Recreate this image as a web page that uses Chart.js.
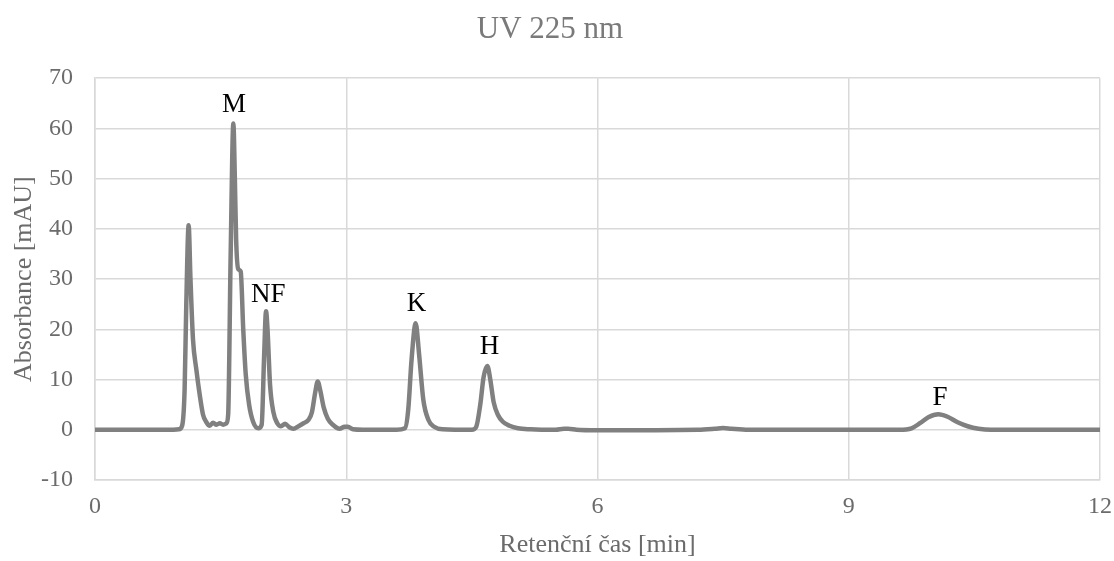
<!DOCTYPE html>
<html lang="cs">
<head>
    <meta charset="UTF-8">
    <title>UV 225 nm</title>
    <script src="https://cdn.jsdelivr.net/npm/chart.js"></script>
    <style>
        body { margin: 0; background: #fff; }
        #wrap { width: 1114px; height: 561px; }
    </style>
</head>
<body>
<div id="wrap"><canvas id="uvChart" width="1114" height="561"></canvas></div>
<script>
  // chromatogram: retention time [min] and absorbance [mAU]
  const retTime = [
    0, 0.5, 0.9, 1.00, 1.04, 1.07, 1.09, 1.118, 1.14, 1.17, 1.21, 1.25, 1.29, 1.33, 1.37,
    1.41, 1.45, 1.49, 1.53, 1.57, 1.59, 1.62, 1.652, 1.67, 1.685, 1.71, 1.74, 1.77, 1.80,
    1.84, 1.89, 1.95, 1.99, 2.02, 2.042, 2.06, 2.09, 2.13, 2.18, 2.22, 2.27, 2.32, 2.37,
    2.43, 2.49, 2.55, 2.59, 2.63, 2.659, 2.69, 2.73, 2.78, 2.84, 2.92, 2.98, 3.02, 3.08,
    3.2, 3.6, 3.70, 3.74, 3.78, 3.829, 3.87, 3.92, 3.98, 4.05, 4.15, 4.5, 4.55, 4.60, 4.64,
    4.685, 4.72, 4.76, 4.81, 4.87, 4.95, 5.05, 5.2, 5.5, 5.6, 5.65, 5.75, 6.0, 7.2, 7.4,
    7.5, 7.6, 7.8, 9.6, 9.75, 9.85, 9.95, 10.07, 10.18, 10.3, 10.42, 10.55, 10.7, 12
  ];
  const absorbance = [
    0, 0, 0, 0.1, 0.8, 8, 25, 40.7, 30, 18, 12, 7, 3, 1.5, 0.8,
    1.4, 1.0, 1.3, 1.0, 1.3, 3, 35, 61, 50, 38, 32, 31.5, 20, 11,
    5, 1.5, 0.3, 1, 15, 23.6, 20, 9, 3.5, 1.2, 0.7, 1.2, 0.5, 0.2,
    0.7, 1.3, 2.0, 3.5, 7.5, 9.6, 7.8, 4.5, 2.2, 1.0, 0.2, 0.6, 0.6, 0.1,
    0, 0, 0.3, 4, 14, 21.2, 15, 6, 2.0, 0.6, 0.1, 0, 0.5, 5, 10.5,
    12.7, 10, 5.5, 3, 1.6, 0.8, 0.3, 0.1, 0, 0.2, 0.2, 0, -0.1, 0, 0.2,
    0.35, 0.2, 0, 0, 0.3, 1.3, 2.5, 3.1, 2.6, 1.5, 0.7, 0.2, 0, 0
  ];

  // peak labels and where they sit (min, mAU)
  const peakNames = ['M', 'NF', 'K', 'H', 'F'];
  const peakX = [1.66, 2.07, 3.84, 4.71, 10.09];
  const peakY = [64.7, 26.9, 25.0, 16.5, 6.3];

  const xTicks = [0, 3, 6, 9, 12];
  const yMin = -10, yMax = 70;

  const serif = '"Liberation Serif", "Times New Roman", serif';
  const gridColor = '#d9d9d9';
  const textColor = '#6b6b6b';

  const peakLabels = {
    id: 'peakLabels',
    afterDatasetsDraw(chart) {
      const {ctx, scales: {x, y}} = chart;
      ctx.save();
      ctx.font = '27px ' + serif;
      ctx.fillStyle = '#000';
      ctx.textAlign = 'center';
      ctx.textBaseline = 'middle';
      peakNames.forEach((name, i) => {
        ctx.fillText(name, x.getPixelForValue(peakX[i]), y.getPixelForValue(peakY[i]));
      });
      ctx.restore();
    }
  };

  const ctx = document.getElementById('uvChart').getContext('2d');
  new Chart(ctx, {
    type: 'line',
    data: {
      datasets: [{
        data: retTime.map((t, i) => ({x: t, y: absorbance[i]})),
        borderColor: '#808080',
        borderWidth: 4.5,
        pointRadius: 0,
        cubicInterpolationMode: 'monotone',
        fill: false
      }]
    },
    options: {
      responsive: false,
      animation: false,
      layout: { padding: { left: 0, right: 14, top: 0, bottom: 0 } },
      plugins: {
        legend: { display: false },
        tooltip: { enabled: false },
        title: {
          display: true,
          text: 'UV 225 nm',
          color: '#7a7a7a',
          font: { family: serif, size: 31, weight: 'normal' },
          padding: { top: 11, bottom: 30 }
        }
      },
      scales: {
        x: {
          type: 'linear',
          min: 0,
          max: 12,
          afterBuildTicks(scale) { scale.ticks = xTicks.map(v => ({value: v})); },
          afterFit(scale) {
            scale.height = 81;
            scale.paddingLeft = 0;
            scale.paddingRight = 0;
          },
          grid: { color: gridColor, lineWidth: 1.5, drawTicks: false },
          border: { color: gridColor, width: 1.5 },
          ticks: { color: textColor, padding: 12, font: { family: serif, size: 24 }, maxRotation: 0 },
          title: {
            display: true,
            text: 'Retenční čas [min]',
            color: textColor,
            font: { family: serif, size: 26 },
            padding: { top: 0, bottom: 0 }
          }
        },
        y: {
          min: yMin,
          max: yMax,
          ticks: { stepSize: 10, color: textColor, padding: 22, font: { family: serif, size: 24 } },
          afterFit(scale) { scale.width = 95; },
          grid: { color: gridColor, lineWidth: 1.5, drawTicks: false },
          border: { color: gridColor, width: 1.5 },
          title: {
            display: true,
            text: 'Absorbance [mAU]',
            color: textColor,
            font: { family: serif, size: 26 },
            padding: { top: 9, bottom: 0 }
          }
        }
      }
    },
    plugins: [peakLabels]
  });
</script>
</body>
</html>
